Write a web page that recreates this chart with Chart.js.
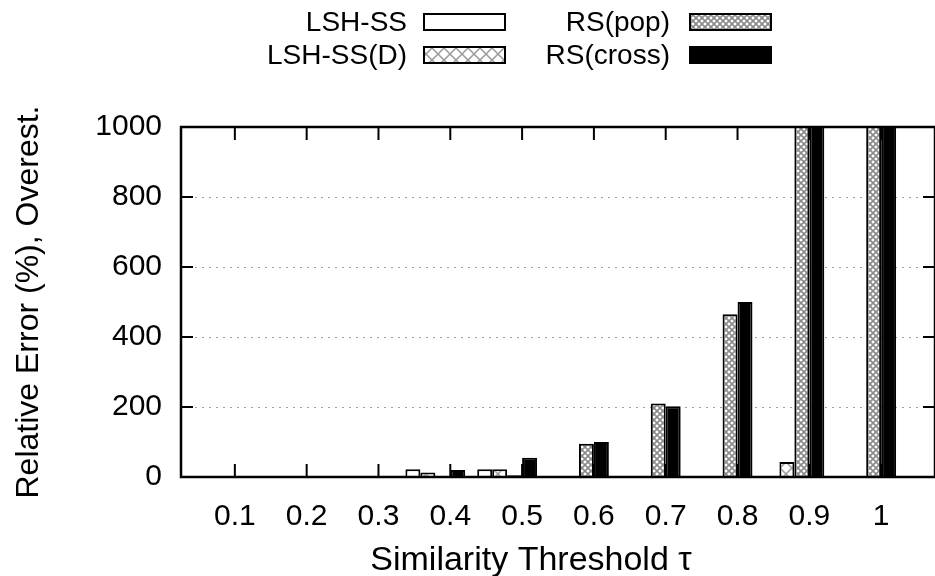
<!DOCTYPE html>
<html>
<head>
<meta charset="utf-8">
<script src="https://cdn.jsdelivr.net/npm/chart.js@4.4.1/dist/chart.umd.min.js"></script>
<style>
  html, body { margin: 0; padding: 0; background: #fff; }
  #wrap { width: 935px; height: 576px; }
</style>
</head>
<body>
<div id="wrap"><canvas id="chart"></canvas></div>
<script>
// Similarity threshold categories
const xLabels = ['0.1', '0.2', '0.3', '0.4', '0.5', '0.6', '0.7', '0.8', '0.9', '1'];

// Relative error (%), overestimation, per method
const lshSS   = [1, 1, 1, 22, 22, 1, 1, 1, 1, 1];
const lshSSD  = [1, 1, 1, 13, 22, 1, 1, 1, 43, 1];
const rsPop   = [1, 1, 1, 2, 5, 95, 210, 465, 1150, 1300];
const rsCross = [1, 1, 1, 20, 55, 100, 202, 500, 1400, 1600];

const seriesNames = ['LSH-SS', 'LSH-SS(D)', 'RS(pop)', 'RS(cross)'];
const yTicks = [0, 200, 400, 600, 800, 1000];
const xTitle = 'Similarity Threshold τ';

const FONT = '"Liberation Sans", Arial, Helvetica, sans-serif';
Chart.defaults.font.family = FONT;
Chart.defaults.font.size = 30;
Chart.defaults.color = '#000';

// hatch patterns like the gnuplot fill styles
function makePattern(size, lineW, color) {
  const c = document.createElement('canvas');
  c.width = size; c.height = size;
  const g = c.getContext('2d');
  g.fillStyle = '#fff';
  g.fillRect(0, 0, size, size);
  g.strokeStyle = color;
  g.lineWidth = lineW;
  g.beginPath();
  g.moveTo(-1, -1); g.lineTo(size + 1, size + 1);
  g.moveTo(size + 1, -1); g.lineTo(-1, size + 1);
  g.stroke();
  return g.createPattern(c, 'repeat');
}
const sparseHatch = makePattern(12, 1.5, '#9a9a9a');
const denseHatch = makePattern(6, 1.6, '#8a8a8a');

const fills = ['#ffffff', sparseHatch, denseHatch, '#000000'];

const toPoints = arr => arr.map((v, i) => ({ x: i, y: v }));

const datasets = [lshSS, lshSSD, rsPop, rsCross].map((arr, k) => ({
  label: seriesNames[k],
  data: toPoints(arr),
  backgroundColor: fills[k],
  borderColor: '#000',
  borderWidth: 2,
  borderSkipped: 'start'
}));
// two empty slots so the cluster sits left of the tick like the original
for (let k = 0; k < 2; k++) {
  datasets.push({
    label: '',
    data: toPoints(xLabels.map(() => 0)),
    backgroundColor: 'rgba(0,0,0,0)',
    borderWidth: 0
  });
}

const framePlugin = {
  id: 'frame',
  afterDatasetsDraw(chart) {
    const { ctx, chartArea: a, scales } = chart;
    ctx.save();
    ctx.strokeStyle = '#000';
    ctx.lineWidth = 2;
    ctx.beginPath();
    yTicks.forEach(v => {
      if (v === 0 || v === 1000) return;
      const y = scales.y.getPixelForValue(v);
      ctx.moveTo(a.left, y); ctx.lineTo(a.left + 12, y);
      ctx.moveTo(a.right, y); ctx.lineTo(a.right - 12, y);
    });
    xLabels.forEach((_, i) => {
      const x = scales.x.getPixelForValue(i);
      ctx.moveTo(x, a.bottom); ctx.lineTo(x, a.bottom - 13);
      ctx.moveTo(x, a.top); ctx.lineTo(x, a.top + 13);
    });
    ctx.stroke();
    ctx.lineWidth = 2.5;
    ctx.strokeRect(a.left, a.top, a.right - a.left, a.bottom - a.top);
    ctx.restore();
  },
  afterDraw(chart) {
    const ctx = chart.ctx;
    const entries = [
      { col: 0, row: 0, k: 0 },
      { col: 0, row: 1, k: 1 },
      { col: 1, row: 0, k: 2 },
      { col: 1, row: 1, k: 3 }
    ];
    const textRight = [407, 670];
    const boxLeft = [424, 690];
    const rowY = [22, 55];
    ctx.save();
    ctx.font = '28px ' + FONT;
    ctx.textAlign = 'right';
    ctx.textBaseline = 'middle';
    entries.forEach(e => {
      const y = rowY[e.row];
      ctx.fillStyle = '#000';
      ctx.fillText(seriesNames[e.k], textRight[e.col], y + 1);
      ctx.fillStyle = fills[e.k];
      ctx.fillRect(boxLeft[e.col], y - 8, 81, 16);
      ctx.strokeStyle = '#000';
      ctx.lineWidth = 2;
      ctx.strokeRect(boxLeft[e.col], y - 8, 81, 16);
    });
    // x axis title, placed where gnuplot put it
    ctx.font = '34px ' + FONT;
    ctx.textAlign = 'center';
    ctx.textBaseline = 'alphabetic';
    ctx.fillStyle = '#000';
    ctx.fillText(xTitle, 531, 570);
    ctx.restore();
  }
};

new Chart(document.getElementById('chart'), {
  type: 'bar',
  data: { datasets },
  options: {
    responsive: true,
    maintainAspectRatio: false,
    animation: false,
    layout: { padding: { top: 127, left: 0, right: -2, bottom: 0 } },
    datasets: {
      bar: { categoryPercentage: 1.25, barPercentage: 1, grouped: true }
    },
    plugins: {
      legend: { display: false },
      tooltip: { enabled: false }
    },
    scales: {
      x: {
        type: 'linear',
        min: -0.75,
        max: 9.75,
        offset: false,
        grid: { display: false, drawTicks: false },
        border: { display: false },
        afterBuildTicks: scale => {
          scale.ticks = xLabels.map((_, i) => ({ value: i }));
        },
        afterFit: scale => { scale.height = 99; },
        ticks: {
          autoSkip: false,
          maxRotation: 0,
          padding: 22,
          callback: v => xLabels[v]
        }
      },
      y: {
        min: 0,
        max: 1000,
        grid: { color: '#a0a0a0', lineWidth: 1, drawTicks: false },
        border: { display: false, dash: [2, 5] },
        afterFit: scale => { scale.width = 181; },
        ticks: { stepSize: 200, padding: 19, callback: v => String(v) },
        title: {
          display: true,
          text: 'Relative Error (%), Overest.',
          font: { size: 32 },
          padding: { top: 10, bottom: 0 }
        }
      }
    }
  },
  plugins: [framePlugin]
});
</script>
</body>
</html>
